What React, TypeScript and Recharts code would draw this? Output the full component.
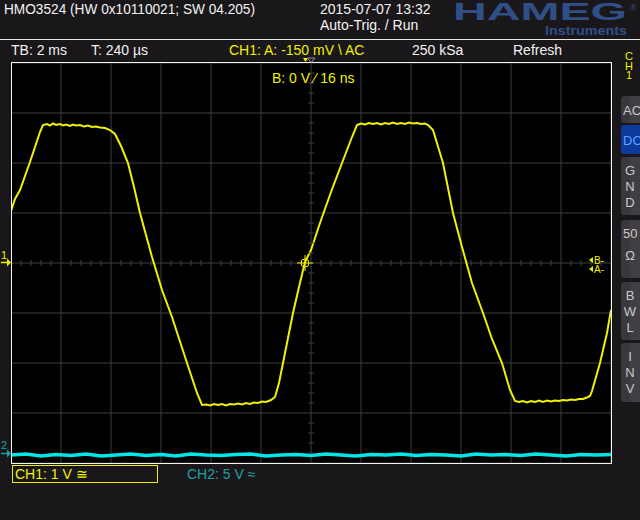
import React from 'react';
import { ComposedChart, Line, Scatter, XAxis, YAxis, CartesianGrid, ReferenceDot } from 'recharts';

// time in ms (2 ms/div), CH1 in volts (1 V/div)
const ch1Time = [
  -12.0, -11.84, -11.64, -11.44, -11.24, -11.04, -10.84, -10.72, -10.56, -10.44, -10.32, -10.2, -10.04, -9.92, -9.8, -9.64,
  -9.52, -9.4, -9.24, -9.08, -8.92, -8.76, -8.6, -8.44, -8.24, -8.04, -7.84, -7.6, -7.32, -7.08, -6.84, -6.6,
  -6.36, -5.96, -5.56, -4.96, -4.56, -4.36, -4.2, -4.04, -3.88, -3.72, -3.56, -3.4, -3.24, -3.08, -2.92, -2.76,
  -2.6, -2.44, -2.28, -2.12, -1.96, -1.8, -1.6, -1.44, -1.28, -1.12, -0.92, -0.72, -0.48, -0.24, 0.0, 0.36,
  0.8, 1.24, 1.64, 1.84, 2.0, 2.16, 2.32, 2.48, 2.64, 2.8, 2.96, 3.12, 3.28, 3.44, 3.6, 3.76,
  3.92, 4.08, 4.24, 4.4, 4.56, 4.68, 4.88, 5.28, 5.68, 6.04, 6.44, 6.88, 7.24, 7.64, 7.96, 8.16,
  8.32, 8.48, 8.64, 8.8, 8.96, 9.12, 9.28, 9.44, 9.6, 9.76, 9.92, 10.08, 10.24, 10.4, 10.56, 10.72,
  10.88, 11.04, 11.16, 11.24, 11.56, 11.84, 12.0,
];
const ch1Volt = [
  1.04, 1.28, 1.46, 1.74, 2.02, 2.32, 2.62, 2.76, 2.78, 2.75, 2.79, 2.76, 2.78, 2.75, 2.77, 2.74,
  2.77, 2.75, 2.76, 2.73, 2.75, 2.72, 2.73, 2.71, 2.7, 2.66, 2.58, 2.34, 2.0, 1.52, 1.0, 0.56,
  0.12, -0.54, -1.08, -2.0, -2.6, -2.84, -2.83, -2.85, -2.82, -2.84, -2.82, -2.85, -2.82, -2.83, -2.81, -2.83,
  -2.8, -2.82, -2.79, -2.8, -2.77, -2.78, -2.74, -2.68, -2.4, -2.0, -1.5, -1.0, -0.48, 0.02, 0.26, 0.8,
  1.42, 2.0, 2.52, 2.76, 2.79, 2.77, 2.8, 2.78, 2.8, 2.77, 2.8, 2.78, 2.81, 2.78, 2.8, 2.78,
  2.81, 2.79, 2.8, 2.78, 2.79, 2.76, 2.66, 2.0, 1.0, 0.32, -0.4, -1.0, -1.52, -2.0, -2.54, -2.76,
  -2.78, -2.76, -2.79, -2.76, -2.78, -2.75, -2.78, -2.75, -2.77, -2.75, -2.76, -2.74, -2.75, -2.73, -2.74, -2.72,
  -2.72, -2.69, -2.66, -2.56, -2.0, -1.4, -0.94,
];

// CH2 sits near the bottom of the screen, in divisions
const ch2Time = [
  -12.0, -11.4, -10.8, -10.2, -9.6, -9.0, -8.4, -7.8, -7.2, -6.6, -6.0, -5.4, -4.8, -4.2, -3.6, -3.0,
  -2.4, -1.8, -1.2, -0.6, 0.0, 0.6, 1.2, 1.8, 2.4, 3.0, 3.6, 4.2, 4.8, 5.4, 6.0, 6.6,
  7.2, 7.8, 8.4, 9.0, 9.6, 10.2, 10.8, 11.4, 12.0,
];
const ch2Div = [
  -3.84, -3.82, -3.86, -3.83, -3.85, -3.82, -3.86, -3.84, -3.82, -3.85, -3.83, -3.86, -3.82, -3.84, -3.85, -3.83,
  -3.82, -3.86, -3.84, -3.83, -3.85, -3.82, -3.84, -3.86, -3.83, -3.84, -3.82, -3.85, -3.83, -3.84, -3.86, -3.82,
  -3.84, -3.83, -3.85, -3.82, -3.84, -3.86, -3.83, -3.84, -3.83,
];

const timeTicks = [-12, -10, -8, -6, -4, -2, 0, 2, 4, 6, 8, 10, 12];
const divTicks = [-4, -3, -2, -1, 0, 1, 2, 3, 4];
const triggerTime = -0.24;
const triggerLevel = 0;

const ch1Data = ch1Time.map((t, i) => ({ t, v: ch1Volt[i] }));
const ch2Data = ch2Time.map((t, i) => ({ t, v: ch2Div[i] }));

// 5 sub-divisions on the centre cross
const minorX: { t: number; v: number }[] = [];
for (let t = -12; t <= 12.001; t += 0.4) {
  const r = Math.round(t * 10) / 10;
  if (Math.abs(r % 2) > 0.01) minorX.push({ t: r, v: 0 });
}
const minorY: { t: number; v: number }[] = [];
for (let v = -4; v <= 4.001; v += 0.2) {
  const r = Math.round(v * 10) / 10;
  if (Math.abs(r % 1) > 0.01) minorY.push({ t: 0, v: r });
}

const GRID = '#3f3f3f';
const YEL = '#f0f000';
const FONT = '"Liberation Sans", Arial, sans-serif';

const sideButtons = [
  { y: 96, h: 27, lines: ['AC'], active: false },
  { y: 125, h: 29, lines: ['DC'], active: true },
  { y: 157, h: 58, lines: ['G', 'N', 'D'], active: false },
  { y: 220, h: 58, lines: ['50', 'Ω'], active: false },
  { y: 282, h: 58, lines: ['B', 'W', 'L'], active: false },
  { y: 343, h: 59, lines: ['I', 'N', 'V'], active: false },
];

function Crosshair(props: any) {
  const { cx, cy } = props;
  return (
    <g stroke={YEL} strokeWidth={1} fill="none">
      <circle cx={cx} cy={cy} r={4} />
      <line x1={cx - 8} x2={cx + 8} y1={cy} y2={cy} />
      <line x1={cx} x2={cx} y1={cy - 8} y2={cy + 8} />
    </g>
  );
}

export default function App() {
  return (
    <div style={{ position: 'relative', width: 640, height: 520, background: '#1a171b', overflow: 'hidden', fontFamily: FONT }}>
      <style>{'body{margin:0}'}</style>
      <div style={{ position: 'absolute', left: 11, top: 63, width: 600, height: 400, background: '#000' }}>
        <ComposedChart width={600} height={400} margin={{ top: 0, right: 0, bottom: 0, left: 0 }}>
          <XAxis dataKey="t" type="number" domain={[-12, 12]} ticks={timeTicks} hide />
          <YAxis type="number" domain={[-4, 4]} ticks={divTicks} hide />
          <CartesianGrid stroke={GRID} strokeWidth={1} />
          <Scatter data={minorX} dataKey="v" isAnimationActive={false}
            shape={(p: any) => <line x1={p.cx} x2={p.cx} y1={p.cy - 3} y2={p.cy + 3} stroke={GRID} strokeWidth={1} />} />
          <Scatter data={minorY} dataKey="v" isAnimationActive={false}
            shape={(p: any) => <line x1={p.cx - 3} x2={p.cx + 3} y1={p.cy} y2={p.cy} stroke={GRID} strokeWidth={1} />} />
          <Line data={ch2Data} dataKey="v" type="linear" stroke="#00e6e6" strokeWidth={3.5} dot={false} isAnimationActive={false} />
          <Line data={ch1Data} dataKey="v" type="linear" stroke={YEL} strokeWidth={2} dot={false} isAnimationActive={false} />
          <ReferenceDot x={triggerTime} y={triggerLevel} shape={Crosshair} />
        </ComposedChart>
      </div>

      <svg width={640} height={520} style={{ position: 'absolute', left: 0, top: 0, pointerEvents: 'none' }} fontFamily={FONT}>
        {/* header */}
        <text x={4} y={14} fontSize={14} fill="#f2f2f2" textLength={251} lengthAdjust="spacingAndGlyphs">HMO3524 (HW 0x10110021; SW 04.205)</text>
        <text x={320} y={14} fontSize={14} fill="#f2f2f2">2015-07-07 13:32</text>
        <text x={320} y={30} fontSize={14} fill="#f2f2f2">Auto-Trig. / Run</text>
        <text x={453} y={20} fontSize={23} fontWeight="bold" fill="#2f4f86" textLength={174} lengthAdjust="spacingAndGlyphs">HAMEG</text>
        <text x={630} y={11} fontSize={9} fill="#2f4f86">®</text>
        <text x={545} y={35} fontSize={13} fontWeight="bold" fill="#2f4f86" textLength={82} lengthAdjust="spacingAndGlyphs">Instruments</text>
        <line x1={0} x2={640} y1={39.5} y2={39.5} stroke="#e8e8e8" strokeWidth={1} />

        <text x={11} y={55} fontSize={14} fill="#f2f2f2">TB: 2 ms</text>
        <text x={91} y={55} fontSize={14} fill="#f2f2f2">T: 240 µs</text>
        <text x={229} y={55} fontSize={14} fill={YEL}>CH1: A: -150 mV \ AC</text>
        <text x={412} y={55} fontSize={14} fill="#f2f2f2">250 kSa</text>
        <text x={513} y={55} fontSize={14} fill="#f2f2f2">Refresh</text>

        {/* channel label on the right */}
        <text x={629} y={60} fontSize={11} fill={YEL} textAnchor="middle">C</text>
        <text x={629} y={70} fontSize={11} fill={YEL} textAnchor="middle">H</text>
        <text x={629} y={79} fontSize={11} fill={YEL} textAnchor="middle">1</text>

        {sideButtons.map((b) => (
          <g key={b.y}>
            <rect x={621} y={b.y} width={30} height={b.h} rx={3} fill={b.active ? '#0b3a9c' : '#3a383c'} />
            {!b.active && <rect x={630} y={b.y} width={12} height={b.h} fill="#423f44" />}
            {b.lines.length === 1 ? (
              <text x={623} y={b.y + b.h / 2 + 5} fontSize={13} fill={b.active ? '#5fa2ff' : '#c9c9c9'}>{b.lines[0]}</text>
            ) : (
              b.lines.map((s, i) => (
                <text key={i} x={s.length > 1 ? 623 : 630} textAnchor={s.length > 1 ? 'start' : 'middle'}
                  y={b.y + 18 + i * (b.lines.length === 2 ? 22 : 16)} fontSize={13} fill="#c9c9c9">{s}</text>
              ))
            )}
          </g>
        ))}

        {/* screen frame */}
        <rect x={11.5} y={62.5} width={600} height={401} fill="none" stroke="#f4f4f4" strokeWidth={1} />

        {/* trigger position marker */}
        <polygon points="303,58 308,58 305.5,62" fill={YEL} />
        <polygon points="307.5,58 315,58 311.2,62.5" fill="none" stroke="#9a9a9a" strokeWidth={1} />
        <text x={272} y={83} fontSize={14} fill={YEL}>B: 0 V ⁄ 16 ns</text>

        {/* channel ground markers */}
        <text x={1} y={259} fontSize={11} fill={YEL}>1</text>
        <line x1={1} x2={8} y1={262.5} y2={262.5} stroke={YEL} strokeWidth={1.5} />
        <polygon points="7,258.5 11,262.5 7,266.5" fill={YEL} />
        <text x={1} y={449} fontSize={11} fill="#1aa3a3">2</text>
        <line x1={1} x2={8} y1={453.5} y2={453.5} stroke="#1aa3a3" strokeWidth={1.5} />
        <polygon points="7,449.5 11,453.5 7,457.5" fill="#1aa3a3" />

        {/* cursor level markers */}
        <polygon points="589,260 593,257 593,263" fill={YEL} />
        <text x={594} y={264} fontSize={10} fill={YEL}>B-</text>
        <polygon points="589,269 593,266 593,272" fill={YEL} />
        <text x={594} y={273} fontSize={10} fill={YEL}>A-</text>

        {/* footer */}
        <rect x={12.5} y={465.5} width={145} height={17} fill="none" stroke={YEL} strokeWidth={1} />
        <text x={15} y={479} fontSize={14} fill={YEL}>CH1: 1 V ≅</text>
        <text x={187} y={479} fontSize={14} fill="#1aa3a3">CH2: 5 V ≈</text>
      </svg>
    </div>
  );
}
